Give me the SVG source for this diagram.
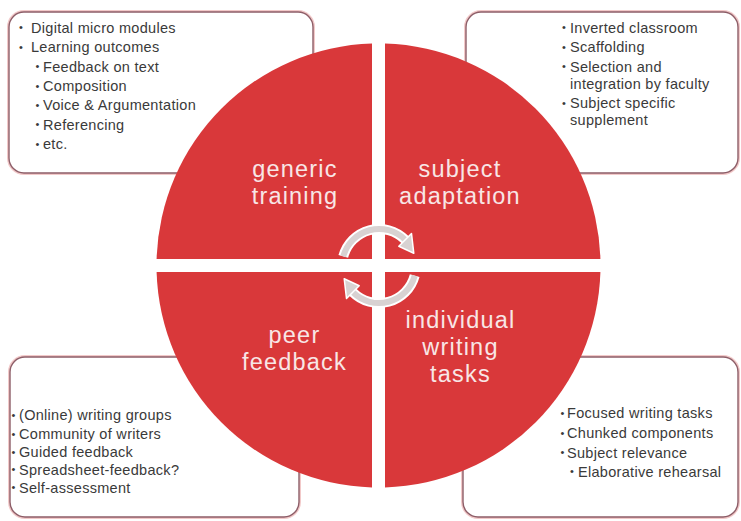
<svg xmlns="http://www.w3.org/2000/svg" width="741" height="521" viewBox="0 0 741 521">
<style>
.halo{fill:none;stroke:#f2c9c9;stroke-width:4}
.box{fill:#ffffff;stroke:#8d5e68;stroke-width:1.4}
.quad{fill:#d9383a}
.lbl{font-family:"Liberation Sans",Arial,sans-serif;font-size:23.5px;letter-spacing:1.2px;fill:#f8e6e6;text-anchor:middle}
.t{font-family:"Liberation Sans",Arial,sans-serif;font-size:14.5px;letter-spacing:0.3px;fill:#3a3a3a}
.b{font-family:"Liberation Sans",Arial,sans-serif;font-size:11px;fill:#3a3a3a;text-anchor:middle}
.arcw{fill:none;stroke:#ffffff;stroke-width:10}
.arcg{fill:none;stroke:#d8d2d2;stroke-width:6}
.head{fill:#d8d2d2;stroke:#ffffff;stroke-width:1.5;stroke-linejoin:round}
</style>
<rect width="741" height="521" fill="#ffffff"/>

<g id="box-generic">
<rect class="halo" x="9" y="12" width="304" height="161" rx="15"/>
<rect class="box" x="9" y="12" width="304" height="161" rx="15"/>
<text class="b" x="21" y="31">•</text><text class="t" x="31" y="32.5">Digital micro modules</text>
<text class="b" x="21" y="50.5">•</text><text class="t" x="31" y="52">Learning outcomes</text>
<text class="b" x="37.5" y="70">•</text><text class="t" x="43" y="71.5">Feedback on text</text>
<text class="b" x="37.5" y="89.5">•</text><text class="t" x="43" y="91">Composition</text>
<text class="b" x="37.5" y="108.5">•</text><text class="t" x="43" y="110">Voice &amp; Argumentation</text>
<text class="b" x="37.5" y="128">•</text><text class="t" x="43" y="129.5">Referencing</text>
<text class="b" x="37.5" y="147.5">•</text><text class="t" x="43" y="149">etc.</text>
</g>

<g id="box-subject">
<rect class="halo" x="466" y="12" width="272" height="161" rx="15"/>
<rect class="box" x="466" y="12" width="272" height="161" rx="15"/>
<text class="b" x="564" y="31">•</text><text class="t" x="570" y="32.5">Inverted classroom</text>
<text class="b" x="564" y="50.5">•</text><text class="t" x="570" y="52">Scaffolding</text>
<text class="b" x="564" y="70">•</text><text class="t" x="570" y="71.5">Selection and</text>
<text class="t" x="570" y="88.5">integration by faculty</text>
<text class="b" x="564" y="106.5">•</text><text class="t" x="570" y="108">Subject specific</text>
<text class="t" x="570" y="125">supplement</text>
</g>

<g id="box-peer">
<rect class="halo" x="10" y="357" width="289" height="160" rx="15"/>
<rect class="box" x="10" y="357" width="289" height="160" rx="15"/>
<text class="b" x="13.5" y="418.5">•</text><text class="t" x="19" y="420">(Online) writing groups</text>
<text class="b" x="13.5" y="437.5">•</text><text class="t" x="19" y="439">Community of writers</text>
<text class="b" x="13.5" y="455.5">•</text><text class="t" x="19" y="457">Guided feedback</text>
<text class="b" x="13.5" y="473">•</text><text class="t" x="19" y="474.5">Spreadsheet-feedback?</text>
<text class="b" x="13.5" y="491">•</text><text class="t" x="19" y="492.5">Self-assessment</text>
</g>

<g id="box-individual">
<rect class="halo" x="463" y="357" width="275" height="160" rx="15"/>
<rect class="box" x="463" y="357" width="275" height="160" rx="15"/>
<text class="b" x="562.5" y="416.5">•</text><text class="t" x="567" y="418">Focused writing tasks</text>
<text class="b" x="562.5" y="436.5">•</text><text class="t" x="567" y="438">Chunked components</text>
<text class="b" x="562.5" y="456">•</text><text class="t" x="567" y="457.5">Subject relevance</text>
<text class="b" x="572" y="475">•</text><text class="t" x="578" y="476.5">Elaborative rehearsal</text>
</g>

<g id="quad-generic">
<path class="quad" d="M372 43.6 A222 222 0 0 0 156.6 259 L372 259 Z"/>
<text class="lbl" x="295" y="177">generic</text>
<text class="lbl" x="295" y="204">training</text>
</g>
<g id="quad-subject">
<path class="quad" d="M385 43.6 A222 222 0 0 1 600.4 259 L385 259 Z"/>
<text class="lbl" x="460" y="177">subject</text>
<text class="lbl" x="460" y="204">adaptation</text>
</g>
<g id="quad-peer">
<path class="quad" d="M156.6 272 A222 222 0 0 0 372 487.4 L372 272 Z"/>
<text class="lbl" x="294.5" y="343">peer</text>
<text class="lbl" x="294.5" y="370">feedback</text>
</g>
<g id="quad-individual">
<path class="quad" d="M385 487.4 A222 222 0 0 0 600.4 272 L385 272 Z"/>
<text class="lbl" x="460.5" y="328">individual</text>
<text class="lbl" x="460.5" y="355">writing</text>
<text class="lbl" x="460.5" y="382">tasks</text>
</g>

<g id="connectors">
<path class="arcw" d="M343.3 256.4 A37 37 0 0 1 405.2 239.8"/>
<path class="arcw" d="M414.7 275.6 A37 37 0 0 1 352.8 292.2"/>
<path class="arcg" d="M343.3 256.4 A37 37 0 0 1 405.2 239.8"/>
<path class="arcg" d="M414.7 275.6 A37 37 0 0 1 352.8 292.2"/>
<polygon class="head" points="398.8,246.2 411.5,233.5 413.8,253.3"/>
<polygon class="head" points="359.2,285.8 346.5,298.5 344.2,278.7"/>
</g>
</svg>
